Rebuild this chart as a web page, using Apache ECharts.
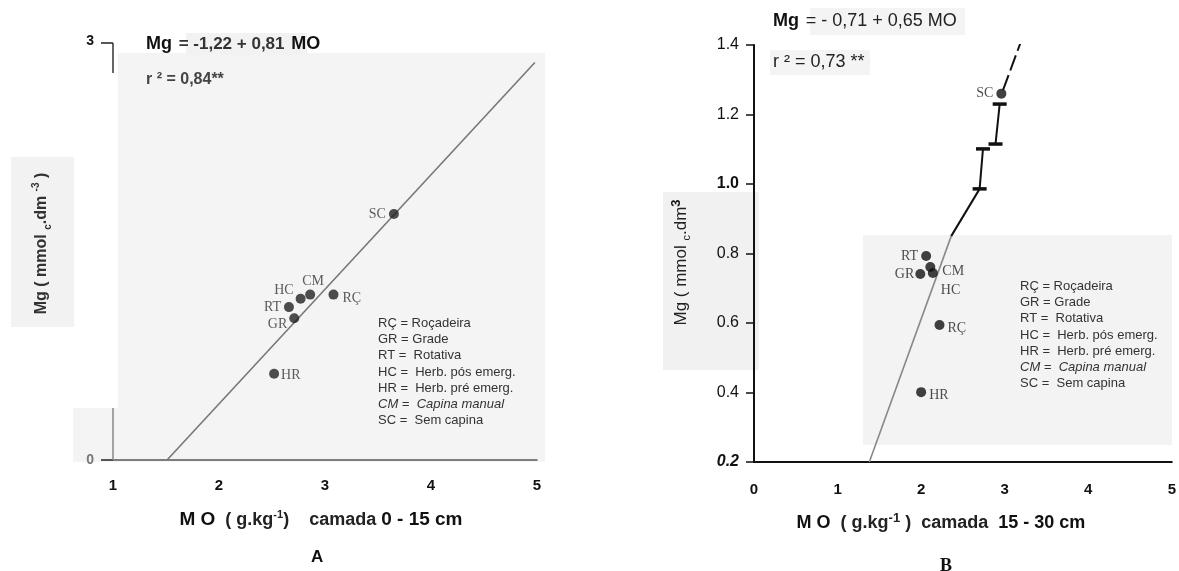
<!DOCTYPE html>
<html>
<head>
<meta charset="utf-8">
<script src="https://cdn.jsdelivr.net/npm/echarts@6/dist/echarts.min.js"></script>
<style>
html,body{margin:0;padding:0;background:#fff;}
#chart{width:1179px;height:571px;}
</style>
</head>
<body>
<div id="chart"></div>
<script>
// ---------- DATA ----------
const categoriesA = ['RÇ', 'GR', 'RT', 'HC', 'HR', 'CM', 'SC'];
const moA = [3.08, 2.71, 2.66, 2.77, 2.52, 2.86, 3.65];
const mgA = [1.19, 1.02, 1.10, 1.16, 0.62, 1.19, 1.77];
const fitLineA = [[1.51, 0.0], [4.98, 2.86]];

const categoriesB = ['RÇ', 'GR', 'RT', 'HC', 'HR', 'CM', 'SC'];
const moB = [2.22, 1.99, 2.06, 2.14, 2.00, 2.11, 2.96];
const mgB = [0.594, 0.741, 0.793, 0.744, 0.401, 0.761, 1.26];
const fitLineBLow = [[1.38, 0.20], [2.36, 0.85]];
const fitLineBMid = [[2.36, 0.85], [2.70, 0.986]];
const fitLineBTop = [[2.98, 1.27], [3.21, 1.42]];
const errorBarsB = [[2.94, 1.230, 2.89, 1.115], [2.74, 1.101, 2.70, 0.986]];

const xTicksA = [1, 2, 3, 4, 5];
const yTicksA = [0, 3];
const xTicksB = [0, 1, 2, 3, 4, 5];
const yTicksB = [0.2, 0.4, 0.6, 0.8, 1.0, 1.2, 1.4];

const legendLines = ['RÇ = Roçadeira', 'GR = Grade', 'RT =  Rotativa', 'HC =  Herb. pós emerg.',
  'HR =  Herb. pré emerg.', 'CM =  Capina manual', 'SC =  Sem capina'];
const eqA = ['Mg', '= -1,22 + 0,81', 'MO'];
const r2A = 'r ² = 0,84**';
const eqB = ['Mg', '= - 0,71 + 0,65 MO'];
const r2B = 'r ² = 0,73 **';

// ---------- STYLE ----------
const SANS = 'Liberation Sans, Arial, sans-serif';
const SERIF = 'Liberation Serif, Times New Roman, serif';

const labelPosA = {
  'SC': {position: 'left', distance: 3},
  'CM': {position: 'top', distance: 1, offset: [3, 0]},
  'HC': {position: 'left', distance: 2, offset: [0, -8]},
  'RT': {position: 'left', distance: 3},
  'GR': {position: 'left', distance: 2, offset: [0, 6]},
  'RÇ': {position: 'right', distance: 4, offset: [0, 4]},
  'HR': {position: 'right', distance: 2, offset: [0, 2]}
};
const labelPosB = {
  'SC': {position: 'left', distance: 3},
  'CM': {position: 'right', distance: 7, offset: [0, 4]},
  'HC': {position: 'right', distance: 3, offset: [0, 17]},
  'RT': {position: 'left', distance: 3},
  'GR': {position: 'left', distance: 1},
  'RÇ': {position: 'right', distance: 3, offset: [0, 3]},
  'HR': {position: 'right', distance: 3, offset: [0, 3]}
};

function pts(cats, xs, ys, posMap) {
  return cats.map((c, i) => ({
    name: c,
    value: [xs[i], ys[i]],
    label: Object.assign({}, posMap[c])
  }));
}

const lgText = legendLines.map(l => (l.indexOf('CM') === 0 ? '{i|' + l + '}' : '{n|' + l + '}')).join('\n');
const lgRich = {
  n: {fontFamily: SANS, fontSize: 13, lineHeight: 16.2, fill: '#333', color: '#333'},
  i: {fontFamily: SANS, fontSize: 13, lineHeight: 16.2, fontStyle: 'italic', fill: '#333', color: '#333'}
};

const chart = echarts.init(document.getElementById('chart'), null, {renderer: 'canvas'});

function errRender(params, api) {
  const p1 = api.coord([api.value(0), api.value(1)]);
  const p2 = api.coord([api.value(2), api.value(3)]);
  const w = 7;
  return {
    type: 'group',
    children: [
      {type: 'line', shape: {x1: p1[0], y1: p1[1], x2: p2[0], y2: p2[1]}, style: {stroke: '#111', lineWidth: 2}},
      {type: 'line', shape: {x1: p1[0] - w, y1: p1[1], x2: p1[0] + w, y2: p1[1]}, style: {stroke: '#111', lineWidth: 3.5}},
      {type: 'line', shape: {x1: p2[0] - w, y1: p2[1], x2: p2[0] + w, y2: p2[1]}, style: {stroke: '#111', lineWidth: 3.5}}
    ]
  };
}

const option = {
  animation: false,
  backgroundColor: '#ffffff',
  graphic: [
    // scanned grey patches
    {type: 'rect', z: -10, shape: {x: 118, y: 53, width: 427, height: 409}, style: {fill: '#f4f4f4'}},
    {type: 'rect', z: -10, shape: {x: 73, y: 408, width: 45, height: 54}, style: {fill: '#f4f4f4'}},
    {type: 'rect', z: -10, shape: {x: 11, y: 157, width: 63, height: 170}, style: {fill: '#f2f2f2'}},
    {type: 'rect', z: -10, shape: {x: 186, y: 33, width: 121, height: 22}, style: {fill: '#f2f2f2'}},
    {type: 'rect', z: -10, shape: {x: 863, y: 235, width: 309, height: 210}, style: {fill: '#f3f3f3'}},
    {type: 'rect', z: -10, shape: {x: 663, y: 192, width: 96, height: 178}, style: {fill: '#f1f1f1'}},
    {type: 'rect', z: -10, shape: {x: 770, y: 50, width: 100, height: 25}, style: {fill: '#f4f4f4'}},
    {type: 'rect', z: -10, shape: {x: 810, y: 8, width: 155, height: 27}, style: {fill: '#f4f4f4'}},
    // fragments of panel A's y axis visible in the scan
    {type: 'line', z: 20, shape: {x1: 113, y1: 43, x2: 113, y2: 73}, style: {stroke: '#333', lineWidth: 1.5}},
    {type: 'line', z: 20, shape: {x1: 113, y1: 408, x2: 113, y2: 460}, style: {stroke: '#888', lineWidth: 1.5}},
    // equations
    {type: 'text', left: 146, top: 35, z: 50, style: {
      text: '{b|' + eqA[0] + '}  {m|' + eqA[1] + '}  {b|' + eqA[2] + '}',
      rich: {
        b: {fontFamily: SANS, fontSize: 18, fontWeight: 'bold', fill: '#111', color: '#111'},
        m: {fontFamily: SANS, fontSize: 17, fontWeight: 'bold', fill: '#333', color: '#333'}
      }
    }},
    {type: 'text', left: 146, top: 72, z: 50, style: {text: r2A, font: 'bold 16px ' + SANS, fill: '#444'}},
    {type: 'text', left: 773, top: 12, z: 50, style: {
      text: '{b|' + eqB[0] + '}  {m|' + eqB[1] + '}',
      rich: {
        b: {fontFamily: SANS, fontSize: 18, fontWeight: 'bold', fill: '#111', color: '#111'},
        m: {fontFamily: SANS, fontSize: 18, fill: '#222', color: '#222'}
      }
    }},
    {type: 'text', left: 773, top: 53, z: 50, style: {text: r2B, font: '18px ' + SANS, fill: '#222'}},
    // legends
    {type: 'text', left: 378, top: 317, z: 50, style: {text: lgText, rich: lgRich}},
    {type: 'text', left: 1020, top: 280, z: 50, style: {text: lgText, rich: lgRich}},
    // panel letters
    {type: 'text', left: 311, top: 549, z: 50, style: {text: 'A', font: 'bold 17px ' + SANS, fill: '#111'}},
    {type: 'text', left: 940, top: 557, z: 50, style: {text: 'B', font: 'bold 18px ' + SERIF, fill: '#111'}}
  ],
  grid: [
    {left: 113, right: 642, top: 43, bottom: 111},
    {left: 754, right: 6, top: 45, bottom: 109}
  ],
  xAxis: [
    {
      gridIndex: 0, type: 'value', min: xTicksA[0], max: xTicksA[xTicksA.length - 1], interval: 1,
      splitLine: {show: false},
      axisLine: {show: true, lineStyle: {color: '#555', width: 1.5}},
      axisTick: {show: false},
      axisLabel: {margin: 18, fontFamily: SANS, fontSize: 15, fontWeight: 'bold', color: '#111'},
      name: '{b|M O}  {n|( g.kg}{sup|-1}{n|)}    {n|camada} {b|0 - 15 cm}',
      nameLocation: 'middle', nameGap: 49,
      nameTextStyle: {
        fontFamily: SANS, fontSize: 18, fontWeight: 'bold', color: '#111',
        padding: [0, 8, 0, 0],
        rich: {
          b: {fontFamily: SANS, fontSize: 19, fontWeight: 'bold', color: '#111', lineHeight: 22},
          n: {fontFamily: SANS, fontSize: 18, fontWeight: 'bold', color: '#222', lineHeight: 22},
          sup: {fontFamily: SANS, fontSize: 11, fontWeight: 'bold', color: '#222', verticalAlign: 'top', lineHeight: 22}
        }
      }
    },
    {
      gridIndex: 1, type: 'value', min: xTicksB[0], max: xTicksB[xTicksB.length - 1], interval: 1,
      splitLine: {show: false},
      axisLine: {show: true, lineStyle: {color: '#111', width: 2}},
      axisTick: {show: false},
      axisLabel: {margin: 20, fontFamily: SANS, fontSize: 15, fontWeight: 'bold', color: '#111'},
      name: '{b|M O}  {n|( g.kg}{sup|-1}{n| )}  {n|camada}  {b|15 - 30 cm}',
      nameLocation: 'middle', nameGap: 50,
      nameTextStyle: {
        fontFamily: SANS, fontSize: 18, fontWeight: 'bold', color: '#111',
        padding: [0, 44, 0, 0],
        rich: {
          b: {fontFamily: SANS, fontSize: 18, fontWeight: 'bold', color: '#111', lineHeight: 22},
          n: {fontFamily: SANS, fontSize: 18, fontWeight: 'bold', color: '#222', lineHeight: 22},
          sup: {fontFamily: SANS, fontSize: 13, fontWeight: 'bold', color: '#222', verticalAlign: 'top', lineHeight: 22}
        }
      }
    }
  ],
  yAxis: [
    {
      gridIndex: 0, type: 'value', min: yTicksA[0], max: yTicksA[yTicksA.length - 1], interval: 3,
      splitLine: {show: false},
      axisLine: {show: false},
      axisTick: {show: true, length: 12, lineStyle: {color: '#222', width: 1.5}},
      axisLabel: {
        margin: 19,
        formatter: v => (v === 0 ? '{z|0}' : '{t|' + v + '}'),
        rich: {
          z: {fontFamily: SANS, fontSize: 14, fontWeight: 'bold', color: '#777'},
          t: {fontFamily: SANS, fontSize: 14, fontWeight: 'bold', color: '#111', padding: [0, 0, 4, 0]}
        }
      },
      name: '{n|Mg ( mmol }{sub|c}{n|.dm }{sup|-3}{n| )}',
      nameLocation: 'middle', nameRotate: 90, nameGap: 60,
      nameTextStyle: {
        padding: [0, 0, 0, 16],
        rich: {
          n: {fontFamily: SANS, fontSize: 16, fontWeight: 'bold', color: '#333', lineHeight: 22},
          sub: {fontFamily: SANS, fontSize: 10, fontWeight: 'bold', color: '#333', verticalAlign: 'bottom', lineHeight: 22},
          sup: {fontFamily: SANS, fontSize: 10, fontWeight: 'bold', color: '#333', verticalAlign: 'top', lineHeight: 22}
        }
      }
    },
    {
      gridIndex: 1, type: 'value', min: yTicksB[0], max: yTicksB[yTicksB.length - 1], interval: 0.2,
      splitLine: {show: false},
      axisLine: {show: true, lineStyle: {color: '#111', width: 2}},
      axisTick: {show: true, length: 8, lineStyle: {color: '#111', width: 1.5}},
      axisLabel: {
        margin: 15,
        formatter: v => {
          const s = v.toFixed(1);
          if (s === '0.2') return '{it|' + s + '}';
          if (s === '1.0') return '{bd|' + s + '}';
          return '{r|' + s + '}';
        },
        rich: {
          r: {fontFamily: SANS, fontSize: 16, color: '#111'},
          it: {fontFamily: SANS, fontSize: 16, fontStyle: 'italic', fontWeight: 'bold', color: '#111'},
          bd: {fontFamily: SANS, fontSize: 16, fontWeight: 'bold', color: '#111'}
        }
      },
      name: '{n|Mg ( mmol }{sub|c}{n|.dm}{sup|3}',
      nameLocation: 'middle', nameRotate: 90, nameGap: 62,
      nameTextStyle: {
        padding: [0, 18, 0, 0],
        rich: {
          n: {fontFamily: SANS, fontSize: 17, color: '#222', lineHeight: 22},
          sub: {fontFamily: SANS, fontSize: 11, color: '#222', verticalAlign: 'bottom', lineHeight: 22},
          sup: {fontFamily: SANS, fontSize: 13, fontWeight: 'bold', color: '#111', verticalAlign: 'top', lineHeight: 22}
        }
      }
    }
  ],
  series: [
    {
      type: 'line', xAxisIndex: 0, yAxisIndex: 0, data: fitLineA, symbol: 'none', z: 3,
      lineStyle: {color: '#777', width: 1.6}
    },
    {
      type: 'scatter', xAxisIndex: 0, yAxisIndex: 0, z: 5,
      data: pts(categoriesA, moA, mgA, labelPosA),
      symbol: 'circle', symbolSize: 10,
      itemStyle: {color: '#222'},
      label: {show: true, formatter: '{b}', fontFamily: SERIF, fontSize: 14, color: '#333'}
    },
    {
      type: 'line', xAxisIndex: 1, yAxisIndex: 1, data: fitLineBLow, symbol: 'none', z: 3,
      lineStyle: {color: '#888', width: 1.6}
    },
    {
      type: 'line', xAxisIndex: 1, yAxisIndex: 1, data: fitLineBMid, symbol: 'none', z: 3,
      lineStyle: {color: '#111', width: 2}
    },
    {
      type: 'line', xAxisIndex: 1, yAxisIndex: 1, data: fitLineBTop, symbol: 'none', z: 3,
      lineStyle: {color: '#111', width: 2, type: [16, 5]}
    },
    {
      type: 'custom', xAxisIndex: 1, yAxisIndex: 1, z: 4,
      renderItem: errRender,
      encode: {x: [0, 2], y: [1, 3]},
      data: errorBarsB
    },
    {
      type: 'scatter', xAxisIndex: 1, yAxisIndex: 1, z: 5,
      data: pts(categoriesB, moB, mgB, labelPosB),
      symbol: 'circle', symbolSize: 10,
      itemStyle: {color: '#111'},
      label: {show: true, formatter: '{b}', fontFamily: SERIF, fontSize: 14, color: '#222'}
    }
  ]
};
chart.setOption(option);
</script>
</body>
</html>
